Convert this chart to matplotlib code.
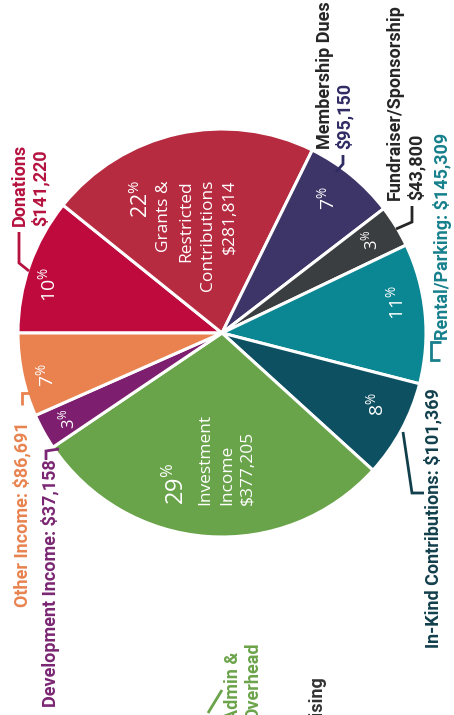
import matplotlib.pyplot as plt

# revenue sources, clockwise from the left edge of the (rotated) pie
categories = ["Donations", "Grants & Restricted Contributions", "Membership Dues",
              "Fundraiser/Sponsorship", "Rental/Parking", "In-Kind Contributions",
              "Investment Income", "Development Income", "Other Income"]
values = [141220, 281814, 95150, 43800, 145309, 101369, 377205, 37158, 86691]
pct_labels = ["10", "22", "7", "3", "11", "8", "29", "3", "7"]
colors = ["#BE0A3C", "#B72B41", "#3D3468", "#3B3E40", "#0B8793",
          "#0D5062", "#69A44A", "#7D1F6E", "#EA8250"]

W, H = 454, 715
OUTER = "Roboto"
INNER = "Open Sans"

plt.rcParams["mathtext.fontset"] = "custom"
plt.rcParams["mathtext.rm"] = INNER


def Y(y):
    # picture rows counted from the top
    return H - y


def vtext(ax, x, y, s, ha="left", **kw):
    ax.text(x, Y(y), s, rotation=90, rotation_mode="anchor", ha=ha, va="center", **kw)


def leader(ax, pts, color):
    ax.plot([p[0] for p in pts], [Y(p[1]) for p in pts], color=color, lw=2,
            solid_capstyle="butt", solid_joinstyle="miter")


fig = plt.figure(figsize=(W / 100, H / 100), dpi=100)
ax = fig.add_axes([0, 0, 1, 1])
ax.pie(values, colors=colors, startangle=180, counterclock=False, radius=204,
       center=(222, Y(333)), wedgeprops=dict(edgecolor="white", linewidth=2.2))
ax.set_xlim(0, W)
ax.set_ylim(0, H)
ax.set_aspect("equal")
ax.axis("off")

# percentages inside the slices
pct_pos = {0: (49, 285, 14), 2: (328, 198, 14), 3: (371, 240, 12), 4: (397, 303, 14),
           5: (377, 404, 14), 7: (68, 419, 12), 8: (47, 375, 14)}
for i, (x, y, fs) in pct_pos.items():
    vtext(ax, x, y, pct_labels[i] + r"$^{\%}$", ha="center", color="white",
          fontsize=fs, family=INNER)

# grants block (top aligned)
grants_lines = [(141, pct_labels[1] + r"$^{\%}$", 15.5), (164, "Grants &", 12.5),
                (186, "Restricted", 12.5), (208, "Contributions", 12.5),
                (230, "$281,814", 12.5)]
for x, s, fs in grants_lines:
    vtext(ax, x, 180, s, ha="right", color="white", fontsize=fs, family=INNER)

# investment block (bottom aligned)
invest_lines = [(177, pct_labels[6] + r"$^{\%}$", 17), (205, "Investment", 12.5),
                (227, "Income", 12.5), (248, "$377,205", 12.5)]
for x, s, fs in invest_lines:
    vtext(ax, x, 505, s, ha="left", color="white", fontsize=fs, family=INNER)

# outer labels
lab = dict(fontsize=13, family=OUTER, fontweight="bold")
vtext(ax, 20, 226, "Donations", color="#B5123F", **lab)
vtext(ax, 40, 226, "$141,220", color="#B5123F", **lab)
leader(ax, [(19, 232), (19, 263), (29, 271)], "#B5123F")

vtext(ax, 325, 149, "Membership Dues", color="#262626", **lab)
vtext(ax, 344, 149, "$95,150", color="#2F2B63", **lab)
leader(ax, [(343, 155), (343, 164), (336, 172)], "#2F2B63")

vtext(ax, 395, 200, "Fundraiser/Sponsorship", color="#262626", **lab)
vtext(ax, 416, 200, "$43,800", color="#262626", **lab)
leader(ax, [(412, 206), (412, 222), (396, 229)], "#262626")

vtext(ax, 442, 340, "Rental/Parking: $145,309", color="#17808C", **lab)
leader(ax, [(441, 342), (431, 342), (431, 360), (440, 360)], "#17808C")

vtext(ax, 433, 648, "In-Kind Contributions: $101,369", color="#123F4C", **lab)
leader(ax, [(403, 432), (412, 493), (424, 493)], "#123F4C")

vtext(ax, 22, 607, "Other Income: $86,691", color="#E8834F", **lab)
leader(ax, [(22, 405), (22, 393), (31, 393)], "#E8834F")

vtext(ax, 50, 707, "Development Income: $37,158", color="#7A2672", **lab)
leader(ax, [(46, 460), (46, 451), (59, 449)], "#7A2672")

vtext(ax, 233, 652, "Admin &", ha="right", color="#6BA34A", **lab)
vtext(ax, 253, 643, "Overhead", ha="right", color="#6BA34A", **lab)
leader(ax, [(208, 713), (222, 690)], "#6BA34A")

vtext(ax, 317, 675, "Fundraising", ha="right", color="#333333", **lab)

fig.savefig("out.png", dpi=100)
